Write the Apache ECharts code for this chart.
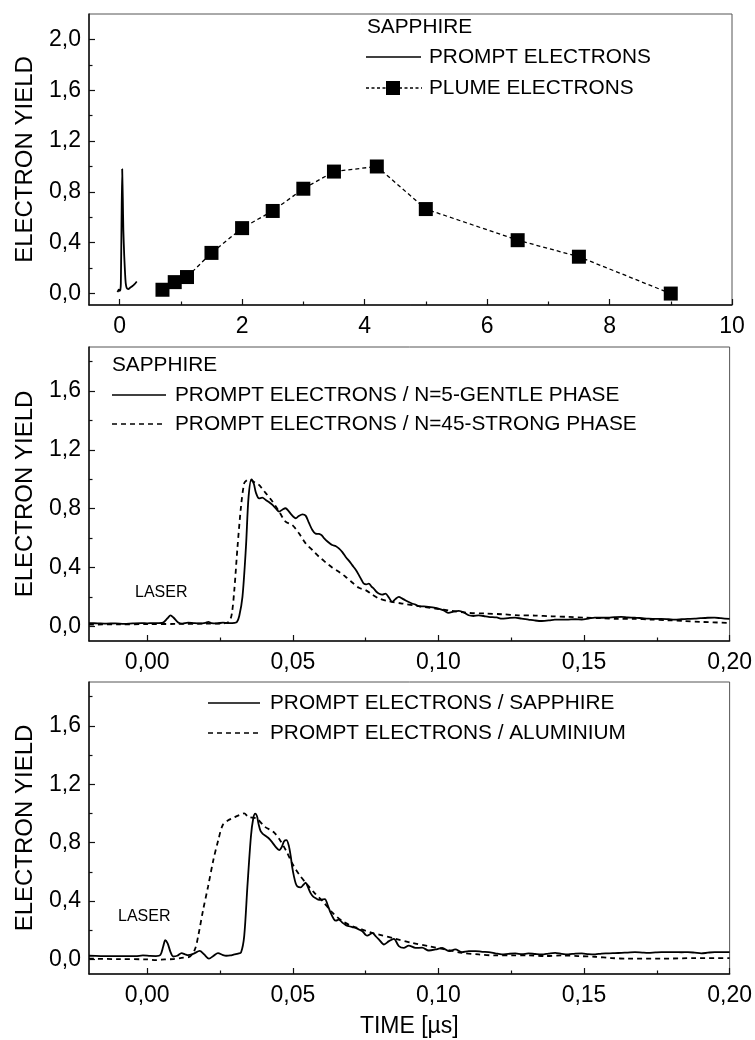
<!DOCTYPE html>
<html>
<head>
<meta charset="utf-8">
<script src="https://cdn.jsdelivr.net/npm/echarts@6/dist/echarts.min.js"></script>
<style>
  html, body { margin: 0; padding: 0; background: #fff; }
  #chart { width: 755px; height: 1040px; }
</style>
</head>
<body>
<div id="chart"></div>
<script>
// ---- Panel 1: prompt spike and plume electrons (time in µs) ----
const promptTop = [[-0.037,0.012],[-0.025,0.02],[-0.015,0.03],[0.0,0.022],[0.012,0.03],[0.02,0.08],[0.03,0.5],[0.042,0.98],[0.046,0.98],[0.052,0.75],[0.061,0.5],[0.075,0.3],[0.09,0.15],[0.1,0.08],[0.115,0.045],[0.143,0.035],[0.17,0.045],[0.2,0.055],[0.24,0.072],[0.28,0.095]];
const plumeTime = [0.7, 0.9, 1.1, 1.5, 2.0, 2.5, 3.0, 3.5, 4.2, 5.0, 6.5, 7.5, 9.0];
const plumeYield = [0.03, 0.09, 0.13, 0.32, 0.515, 0.65, 0.825, 0.96, 1.0, 0.665, 0.42, 0.29, 0.0];

// ---- Panel 2: sapphire, gentle (N=5) vs strong (N=45) phase ----
const gentleN5 = [[-0.02,0.022],[-0.017,0.02],[-0.014,0.018],[-0.011,0.02],[-0.008,0.017],[-0.005,0.02],[-0.002,0.022],[0.0,0.02],[0.002,0.022],[0.004,0.021],[0.0055,0.025],[0.007,0.055],[0.008,0.075],[0.009,0.06],[0.0105,0.028],[0.012,0.018],[0.014,0.025],[0.016,0.022],[0.018,0.02],[0.02,0.024],[0.021,0.03],[0.022,0.022],[0.024,0.02],[0.026,0.025],[0.028,0.022],[0.03,0.024],[0.0308,0.03],[0.0316,0.07],[0.0327,0.2],[0.0339,0.54],[0.0348,0.88],[0.0358,1.0],[0.0366,0.97],[0.0373,0.91],[0.0384,0.87],[0.0395,0.875],[0.0407,0.86],[0.0418,0.845],[0.043,0.826],[0.0442,0.8],[0.0453,0.78],[0.0465,0.795],[0.0475,0.803],[0.0485,0.785],[0.0493,0.765],[0.0502,0.745],[0.051,0.735],[0.052,0.75],[0.0533,0.762],[0.0544,0.753],[0.0555,0.705],[0.0567,0.655],[0.0578,0.63],[0.059,0.628],[0.06,0.618],[0.0607,0.6],[0.062,0.575],[0.0635,0.553],[0.0648,0.545],[0.0658,0.53],[0.067,0.505],[0.0681,0.473],[0.0693,0.445],[0.0704,0.416],[0.0716,0.385],[0.0727,0.348],[0.0736,0.315],[0.0744,0.29],[0.0752,0.285],[0.0761,0.29],[0.077,0.27],[0.0778,0.257],[0.0787,0.235],[0.0795,0.223],[0.0807,0.215],[0.0818,0.222],[0.083,0.195],[0.0841,0.166],[0.0852,0.185],[0.0864,0.2],[0.0875,0.19],[0.0886,0.177],[0.0898,0.165],[0.0909,0.155],[0.0921,0.148],[0.0932,0.137],[0.095,0.135],[0.0966,0.132],[0.098,0.128],[0.1,0.121],[0.1018,0.108],[0.1035,0.091],[0.1052,0.1],[0.107,0.105],[0.1087,0.095],[0.1104,0.075],[0.112,0.07],[0.1138,0.075],[0.1155,0.07],[0.1172,0.064],[0.12,0.06],[0.1218,0.052],[0.124,0.056],[0.1263,0.059],[0.1286,0.052],[0.1309,0.046],[0.133,0.04],[0.1355,0.036],[0.138,0.04],[0.14,0.046],[0.1423,0.045],[0.1446,0.046],[0.147,0.048],[0.1492,0.046],[0.1515,0.052],[0.1537,0.059],[0.156,0.058],[0.1583,0.059],[0.1605,0.062],[0.1628,0.064],[0.165,0.06],[0.1674,0.059],[0.17,0.055],[0.172,0.052],[0.1745,0.05],[0.1765,0.05],[0.179,0.048],[0.1811,0.046],[0.1835,0.048],[0.1856,0.05],[0.188,0.052],[0.19,0.055],[0.1925,0.058],[0.1948,0.059],[0.197,0.055],[0.2,0.05]];
const strongN45 = [[-0.02,0.012],[-0.01,0.013],[0.0,0.015],[0.01,0.016],[0.02,0.018],[0.026,0.02],[0.028,0.03],[0.029,0.08],[0.0299,0.246],[0.031,0.54],[0.0322,0.814],[0.0333,0.974],[0.0341,0.992],[0.035,1.0],[0.036,0.99],[0.0373,0.975],[0.0384,0.962],[0.0395,0.935],[0.0407,0.906],[0.043,0.849],[0.0453,0.78],[0.0475,0.712],[0.0498,0.689],[0.0521,0.633],[0.0544,0.564],[0.0567,0.519],[0.059,0.473],[0.0613,0.435],[0.0635,0.4],[0.0658,0.371],[0.0681,0.337],[0.0704,0.298],[0.0727,0.262],[0.075,0.246],[0.0773,0.215],[0.0795,0.19],[0.083,0.17],[0.0875,0.155],[0.0932,0.137],[0.0989,0.121],[0.1046,0.105],[0.1104,0.091],[0.116,0.087],[0.1218,0.082],[0.1275,0.075],[0.1332,0.073],[0.1389,0.068],[0.1446,0.064],[0.1503,0.059],[0.156,0.055],[0.1617,0.05],[0.1674,0.05],[0.1731,0.046],[0.1788,0.041],[0.1845,0.036],[0.19,0.03],[0.2,0.023]];

// ---- Panel 3: sapphire vs aluminium ----
const sapphire = [[-0.02,0.025],[-0.016,0.023],[-0.012,0.022],[-0.008,0.022],[-0.004,0.022],[-0.0015,0.027],[0.001,0.024],[0.003,0.023],[0.0045,0.03],[0.0055,0.09],[0.0062,0.131],[0.007,0.11],[0.008,0.05],[0.0089,0.02],[0.0103,0.025],[0.0118,0.043],[0.013,0.035],[0.014,0.029],[0.016,0.04],[0.018,0.058],[0.0195,0.035],[0.0212,0.005],[0.0228,0.025],[0.0243,0.043],[0.026,0.03],[0.0271,0.025],[0.0285,0.027],[0.0299,0.034],[0.0312,0.04],[0.0322,0.047],[0.0333,0.16],[0.0344,0.5],[0.0356,0.84],[0.0364,0.965],[0.0371,0.998],[0.0377,0.98],[0.0382,0.93],[0.0389,0.88],[0.0396,0.862],[0.0407,0.845],[0.0418,0.828],[0.043,0.8],[0.0441,0.771],[0.0453,0.749],[0.0462,0.77],[0.047,0.81],[0.0478,0.817],[0.0486,0.78],[0.0493,0.703],[0.0498,0.63],[0.0504,0.567],[0.051,0.52],[0.0516,0.499],[0.0527,0.494],[0.0536,0.51],[0.0544,0.526],[0.0552,0.495],[0.0561,0.454],[0.057,0.43],[0.0578,0.42],[0.0587,0.41],[0.0595,0.408],[0.061,0.413],[0.062,0.37],[0.063,0.318],[0.0641,0.275],[0.0648,0.265],[0.0658,0.273],[0.0671,0.25],[0.0682,0.235],[0.0693,0.227],[0.0704,0.221],[0.0716,0.215],[0.0727,0.205],[0.0739,0.193],[0.075,0.168],[0.0756,0.163],[0.0765,0.172],[0.0773,0.181],[0.0785,0.158],[0.0796,0.136],[0.0813,0.102],[0.083,0.125],[0.0847,0.141],[0.0864,0.091],[0.0881,0.079],[0.0898,0.095],[0.0921,0.079],[0.0944,0.08],[0.0967,0.061],[0.099,0.068],[0.1013,0.079],[0.1036,0.057],[0.1058,0.068],[0.1081,0.05],[0.1104,0.057],[0.1127,0.057],[0.115,0.052],[0.1172,0.05],[0.1195,0.042],[0.1218,0.034],[0.124,0.038],[0.1264,0.041],[0.1287,0.036],[0.1309,0.041],[0.1332,0.037],[0.1355,0.034],[0.1378,0.04],[0.1401,0.045],[0.1423,0.038],[0.1446,0.034],[0.147,0.04],[0.1492,0.041],[0.1515,0.036],[0.1538,0.034],[0.156,0.04],[0.1583,0.041],[0.1606,0.043],[0.1629,0.045],[0.165,0.047],[0.1675,0.05],[0.17,0.047],[0.172,0.045],[0.1745,0.048],[0.1766,0.05],[0.179,0.05],[0.1812,0.05],[0.1835,0.049],[0.1857,0.05],[0.188,0.046],[0.1903,0.041],[0.1925,0.046],[0.1949,0.05],[0.1975,0.05],[0.2,0.05]];
const aluminium = [[-0.02,0.005],[-0.01,0.002],[0.0,0.0],[0.003,-0.005],[0.006,0.0],[0.009,0.002],[0.0118,0.01],[0.0147,0.02],[0.0164,0.07],[0.0175,0.16],[0.0192,0.34],[0.0209,0.5],[0.0227,0.68],[0.0244,0.817],[0.0259,0.919],[0.0278,0.953],[0.0296,0.97],[0.0312,0.985],[0.0324,0.994],[0.0333,1.0],[0.0347,0.976],[0.0376,0.964],[0.0404,0.908],[0.0433,0.874],[0.0455,0.82],[0.0478,0.74],[0.05,0.65],[0.0523,0.578],[0.0546,0.521],[0.0575,0.454],[0.0603,0.397],[0.0637,0.318],[0.0671,0.261],[0.0705,0.227],[0.0739,0.204],[0.0774,0.18],[0.0796,0.17],[0.0853,0.141],[0.091,0.113],[0.0967,0.091],[0.1024,0.068],[0.1081,0.045],[0.1138,0.034],[0.1195,0.027],[0.1252,0.027],[0.1309,0.027],[0.1366,0.023],[0.1423,0.027],[0.148,0.023],[0.1538,0.018],[0.1595,0.009],[0.1652,0.005],[0.1766,0.005],[0.188,0.009],[0.2,0.009]];

// ---- Tick values ----
const topXLabels = [0, 2, 4, 6, 8, 10];
const topXMinor = [1, 3, 5, 7, 9];
const topYLabels = [0, 0.4, 0.8, 1.2, 1.6, 2.0];
const topYMinor = [0.2, 0.6, 1.0, 1.4, 1.8];
const timeLabels = [0, 0.05, 0.10, 0.15, 0.20];
const timeMinor = [0.025, 0.075, 0.125, 0.175];
const yieldLabels = [0, 0.4, 0.8, 1.2, 1.6];
const yieldMinor = [0.2, 0.6, 1.0, 1.4, 1.8];

const FONT = '"Liberation Sans", Arial, sans-serif';
const LEGEND_SIZE = 20.8;
const comma = (d) => (v) => Number(v).toFixed(d).replace('.', ',');

const grids = [
  { left: 89, top: 14, width: 643, height: 291 },
  { left: 89, top: 347, width: 643, height: 294 },
  { left: 89, top: 682, width: 643, height: 292 }
].map(g => Object.assign({ show: true, borderColor: '#555', borderWidth: 1, backgroundColor: 'transparent' }, g));

function mainAxis(dim, gridIndex, min, max, labels, fmt, extra) {
  return Object.assign({
    type: 'value', gridIndex, min, max,
    position: dim === 'x' ? 'bottom' : 'left',
    axisLine: { show: true, onZero: false, lineStyle: { color: '#111', width: 1.5 } },
    axisTick: { show: true, inside: true, length: 6, customValues: labels, lineStyle: { color: '#111', width: 1.2 } },
    axisLabel: { show: true, customValues: labels, formatter: fmt, color: '#000', fontSize: 23, fontFamily: FONT, margin: dim === 'x' ? 10 : 8 },
    splitLine: { show: false }
  }, extra || {});
}
function minorAxis(dim, gridIndex, min, max, ticks) {
  return {
    type: 'value', gridIndex, min, max,
    position: dim === 'x' ? 'bottom' : 'left',
    axisLine: { show: false, onZero: false },
    axisTick: { show: true, inside: true, length: 3.5, customValues: ticks, lineStyle: { color: '#111', width: 1.2 } },
    axisLabel: { show: false },
    splitLine: { show: false }
  };
}
const yName = {
  name: 'ELECTRON YIELD', nameLocation: 'middle', nameGap: 52, nameRotate: 90,
  nameTextStyle: { fontSize: 24, fontFamily: FONT, color: '#000' }
};

const xAxes = [
  mainAxis('x', 0, -0.5, 10, topXLabels, (v) => String(Math.round(v))),
  minorAxis('x', 0, -0.5, 10, topXMinor),
  mainAxis('x', 1, -0.02, 0.2, timeLabels, comma(2)),
  minorAxis('x', 1, -0.02, 0.2, timeMinor),
  mainAxis('x', 2, -0.02, 0.2, timeLabels, comma(2), {
    name: 'TIME [µs]', nameLocation: 'middle', nameGap: 41,
    nameTextStyle: { fontSize: 23, fontFamily: FONT, color: '#000' }
  }),
  minorAxis('x', 2, -0.02, 0.2, timeMinor)
];
const yAxes = [
  mainAxis('y', 0, -0.09, 2.2, topYLabels, comma(1), yName),
  minorAxis('y', 0, -0.09, 2.2, topYMinor),
  mainAxis('y', 1, -0.1, 1.9, yieldLabels, comma(1), yName),
  minorAxis('y', 1, -0.1, 1.9, yieldMinor),
  mainAxis('y', 2, -0.1, 1.9, yieldLabels, comma(1), yName),
  minorAxis('y', 2, -0.1, 1.9, yieldMinor)
];

const solid = { color: '#000', width: 1.8, type: 'solid' };
const dashed = { color: '#000', width: 1.8, type: [5, 4] };
function curve(name, data, axis, style, smooth) {
  return {
    name, type: 'line', data, xAxisIndex: axis, yAxisIndex: axis,
    showSymbol: false, symbol: 'none', smooth: smooth, lineStyle: style,
    silent: true, z: 3
  };
}

const series = [
  curve('PROMPT ELECTRONS', promptTop, 0, solid, 0.2),
  {
    name: 'PLUME ELECTRONS', type: 'line', xAxisIndex: 0, yAxisIndex: 0,
    data: plumeTime.map((t, i) => [t, plumeYield[i]]),
    symbol: 'rect', symbolSize: 14, showSymbol: true,
    itemStyle: { color: '#000' },
    lineStyle: { color: '#000', width: 1.3, type: [4, 3] },
    silent: true, z: 3
  },
  curve('PROMPT ELECTRONS / N=5-GENTLE PHASE', gentleN5, 2, solid, 0.3),
  curve('PROMPT ELECTRONS / N=45-STRONG PHASE', strongN45, 2, dashed, 0.3),
  curve('PROMPT ELECTRONS / SAPPHIRE', sapphire, 4, solid, 0.3),
  curve('PROMPT ELECTRONS / ALUMINIUM', aluminium, 4, dashed, 0.3)
];

// Legend keys and annotations
function txt(x, y, text, size) {
  return { type: 'text', x, y, style: { text, fill: '#000', font: size + 'px ' + FONT, align: 'left', verticalAlign: 'middle' } };
}
function key(x1, x2, y, dash, w) {
  return { type: 'line', shape: { x1, y1: y, x2, y2: y }, style: { stroke: '#000', lineWidth: w || 1.6, lineDash: dash || null } };
}
const graphic = [
  txt(367, 27, 'SAPPHIRE', LEGEND_SIZE),
  key(366, 421, 57),
  txt(429, 57, 'PROMPT ELECTRONS', LEGEND_SIZE),
  key(366, 422, 88, [3, 2.5], 1.3),
  { type: 'rect', shape: { x: 386, y: 81, width: 14, height: 14 }, style: { fill: '#000' } },
  txt(429, 88, 'PLUME ELECTRONS', LEGEND_SIZE),

  txt(112, 365, 'SAPPHIRE', LEGEND_SIZE),
  key(112, 166, 395),
  txt(175, 395, 'PROMPT ELECTRONS / N=5-GENTLE PHASE', LEGEND_SIZE),
  key(112, 166, 424, [5, 4]),
  txt(175, 424, 'PROMPT ELECTRONS / N=45-STRONG PHASE', LEGEND_SIZE),
  txt(135, 593, 'LASER', 16),

  key(208, 260, 703),
  txt(270, 703, 'PROMPT ELECTRONS / SAPPHIRE', LEGEND_SIZE),
  key(208, 260, 733, [5, 4]),
  txt(270, 733, 'PROMPT ELECTRONS / ALUMINIUM', LEGEND_SIZE),
  txt(118, 917, 'LASER', 16)
];

const chart = echarts.init(document.getElementById('chart'), null, { renderer: 'canvas' });
chart.setOption({
  animation: false,
  backgroundColor: '#fff',
  grid: grids,
  xAxis: xAxes,
  yAxis: yAxes,
  series,
  graphic
});
</script>
</body>
</html>
